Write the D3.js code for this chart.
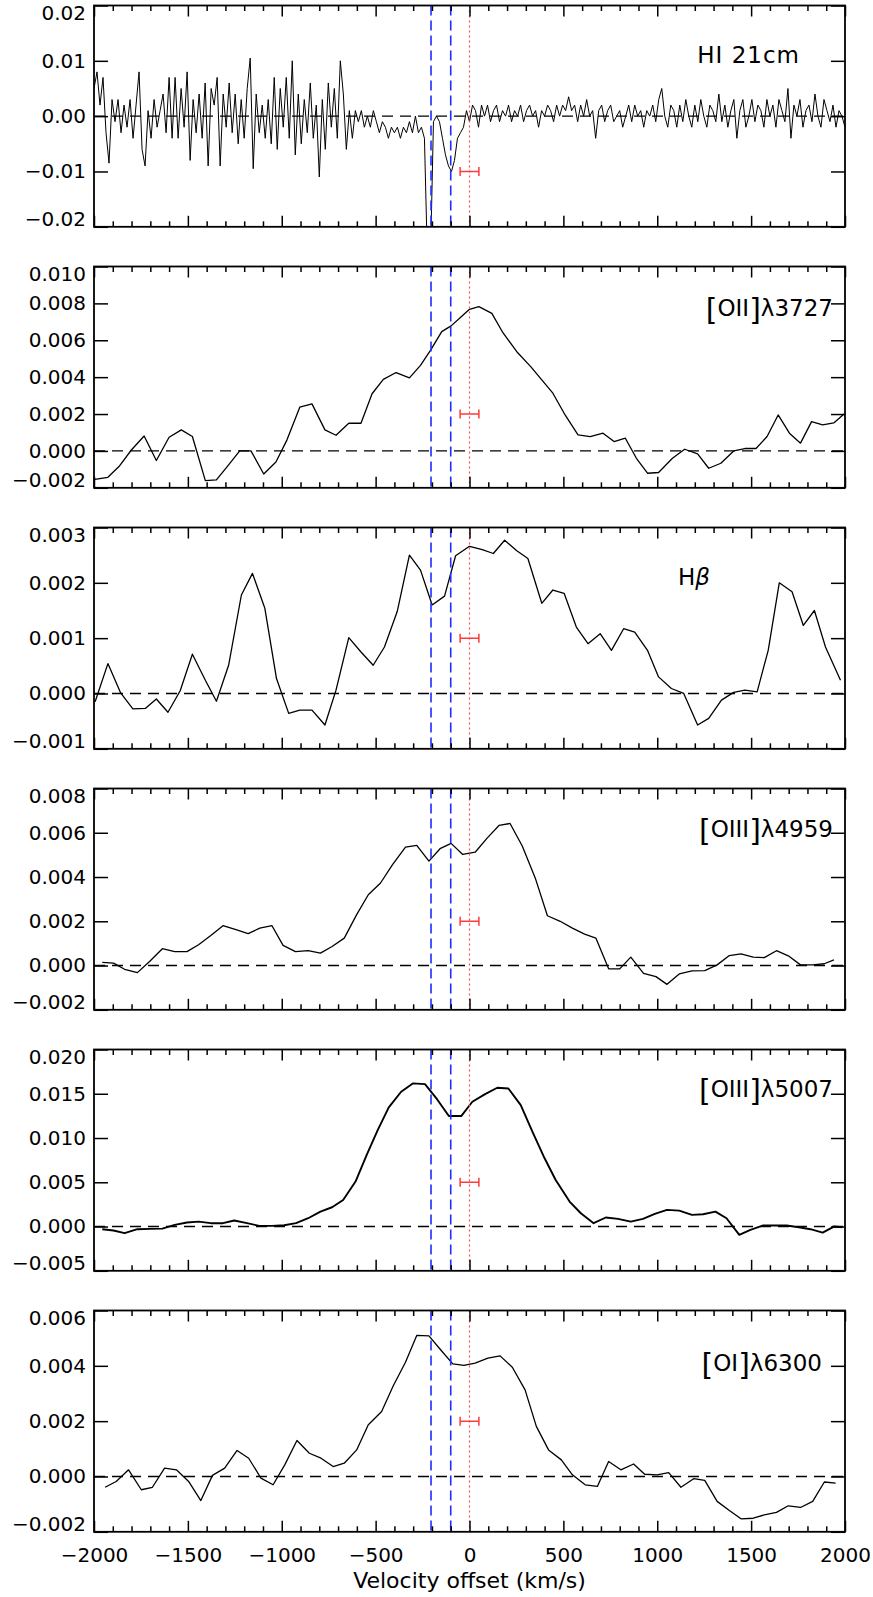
<!DOCTYPE html>
<html>
<head>
<meta charset="utf-8">
<script src="https://d3js.org/d3.v7.min.js"></script>
<style>
  body { margin: 0; background: #fff; }
  svg { display: block; }
  .tick-label { font: 20px "DejaVu Sans", sans-serif; fill: #000; }
  .panel-label { font: 23px "DejaVu Sans", sans-serif; fill: #000; }
  .axis-title { font: 22px "DejaVu Sans", sans-serif; fill: #000; }
</style>
</head>
<body>
<svg id="chart" width="873" height="1597"></svg>
<script>
// x axis
var xTicksMajor = [-2000, -1500, -1000, -500, 0, 500, 1000, 1500, 2000];
var xTitle = "Velocity offset (km/s)";

// panels, top to bottom
var panelNames = ["HI 21cm", "[OII]λ3727", "Hβ", "[OIII]λ4959", "[OIII]λ5007", "[OI]λ6300"];
var yMin = [-0.02, -0.002, -0.001, -0.002, -0.005, -0.002];
var yMax = [0.02, 0.010, 0.003, 0.008, 0.020, 0.006];
var yStep = [0.01, 0.002, 0.001, 0.002, 0.005, 0.002];
var yDigits = [2, 3, 3, 3, 3, 3];
var errY = [-0.01, 0.002, 0.001, 0.002, 0.005, 0.002];

// marker velocities (km/s)
var blueLines = [-205, -100];
var redLine = 0;
var errHalf = 50;

// HI 21cm, 16 km/s channels from -2000 (one row = 10 channels)
var hiStart = -2000, hiChan = 16;
var hiFlux = [
  0.005, 0.008, 0.002, 0.007, -0.003, -0.0085, 0.003, -0.001, 0.003, -0.003,   // -2000
  0.002, -0.002, 0.003, -0.004, 0.002, 0.008, -0.006, -0.009, 0.001, -0.004,   // -1840
  0.003, -0.002, 0.001, 0.004, -0.003, 0.007, -0.004, 0.007, -0.004, 0.005,    // -1680
  -0.002, 0.008, -0.008, 0.003, -0.003, 0.004, -0.004, 0.006, -0.009, 0.005,   // -1520
  0.002, 0.007, -0.009, 0.004, -0.002, 0.006, -0.003, 0.004, -0.005, 0.003,    // -1360
  -0.004, 0.005, 0.0105, -0.0095, 0.004, -0.003, 0.002, -0.004, 0.003, -0.005, // -1200
  0.007, -0.006, 0.005, -0.002, 0.007, -0.004, 0.010, -0.007, 0.004, -0.005,   // -1040
  0.003, -0.003, 0.006, -0.004, 0.002, -0.011, 0.003, -0.006, 0.006, -0.002,   // -880
  0.005, -0.004, 0.010, 0.004, -0.006, 0.001, -0.004, 0.001, -0.001, 0.001,    // -720
  -0.002, 0.000, -0.002, 0.001, -0.001, -0.003, -0.001, -0.002, -0.004, -0.002, // -560
  -0.003, -0.002, -0.004, -0.002, -0.003, -0.001, -0.003, 0.000, -0.003, -0.002, // -400
  -0.004, -0.026, -0.026, -0.001, 0.000, -0.001, -0.004, -0.007, -0.009, -0.010, // -240
  -0.008, -0.004, -0.003, -0.002, 0.001, -0.001, 0.002, 0.001, -0.002, 0.002,  // -80
  0.000, 0.002, -0.001, 0.001, 0.002, -0.001, 0.001, 0.000, 0.002, -0.001,     // 80
  0.001, 0.000, 0.002, -0.001, 0.001, 0.002, 0.000, 0.001, -0.002, 0.001,      // 240
  0.000, 0.002, 0.001, -0.001, 0.002, 0.000, 0.002, 0.001, 0.0035, 0.001,      // 400
  0.002, -0.001, 0.002, 0.000, 0.003, 0.000, 0.001, -0.004, 0.001, 0.002,      // 560
  -0.001, 0.001, 0.002, -0.001, 0.000, 0.001, -0.002, 0.000, 0.002, -0.001,    // 720
  0.002, 0.000, 0.001, -0.002, 0.001, 0.000, 0.002, -0.001, 0.003, 0.005,      // 880
  0.000, -0.002, 0.002, 0.001, -0.002, 0.002, -0.001, 0.003, 0.000, -0.002,    // 1040
  0.002, -0.001, 0.003, 0.000, -0.002, 0.002, 0.001, -0.001, 0.004, -0.001,    // 1200
  0.002, -0.002, 0.001, 0.003, -0.004, 0.001, 0.003, -0.002, 0.000, 0.003,     // 1360
  -0.001, 0.002, 0.001, -0.002, 0.003, 0.000, 0.002, -0.002, 0.003, 0.001,     // 1520
  -0.001, 0.005, -0.004, 0.002, 0.000, 0.003, -0.002, 0.001, 0.002, -0.001,    // 1680
  0.004, 0.000, -0.002, 0.003, 0.001, -0.001, 0.002, -0.002, 0.001, 0.000,     // 1840
  -0.002                                                                       // 2000
];

// optical lines, [velocity, flux]
var oii3727 = [[-1995,-0.00154],[-1926,-0.00143],[-1867,-0.00085],[-1801,0.00005],[-1733,0.00081],[-1668,-0.00052],
  [-1600,0.00074],[-1535,0.00114],[-1476,0.00078],[-1407,-0.00161],[-1348,-0.00157],[-1283,-0.00076],[-1224,0.0],
  [-1164,0.0],[-1096,-0.00125],[-1031,-0.0006],[-972,0.0006],[-904,0.00237],[-839,0.00255],[-770,0.00114],
  [-711,0.00085],[-643,0.0015],[-578,0.0015],[-519,0.0031],[-459,0.00388],[-391,0.00425],[-320,0.00396],
  [-261,0.00464],[-207,0.00547],[-148,0.00647],[-98,0.00678],[-44,0.00728],[0,0.00768],[50,0.00782],
  [119,0.00746],[178,0.00641],[252,0.00538],[326,0.00457],[385,0.00385],[444,0.00313],[504,0.00204],
  [578,0.00087],[643,0.00078],[711,0.00096],[770,0.00051],[830,0.00069],[889,-0.0004],[948,-0.00121],
  [1007,-0.00117],[1081,-0.0004],[1146,0.00009],[1215,-0.00016],[1274,-0.00094],[1339,-0.00067],[1407,0.0],
  [1467,0.00013],[1526,0.00013],[1585,0.00078],[1644,0.00195],[1704,0.00096],[1763,0.00042],[1822,0.00159],
  [1881,0.00141],[1940,0.00152],[1995,0.002]];

var hbeta = [[-1994,-0.00015],[-1926,0.00054],[-1858,0.00001],[-1793,-0.00028],[-1727,-0.00027],[-1668,-0.0001],
  [-1606,-0.00034],[-1541,0.00005],[-1476,0.00071],[-1407,0.00024],[-1348,-0.00014],[-1283,0.00051],[-1215,0.00178],
  [-1156,0.00217],[-1090,0.00154],[-1028,0.00027],[-963,-0.00036],[-904,-0.0003],[-839,-0.0003],[-770,-0.00057],
  [-711,0.00006],[-643,0.00101],[-578,0.00075],[-513,0.00051],[-453,0.00084],[-385,0.00148],[-320,0.0025],
  [-261,0.00223],[-199,0.0016],[-133,0.00176],[-74,0.00249],[0,0.00266],[68,0.0026],[127,0.00253],[187,0.00277],
  [252,0.00258],[311,0.00244],[385,0.00163],[444,0.00187],[504,0.00181],[569,0.0012],[631,0.0009],[696,0.00108],
  [756,0.00078],[821,0.00117],[880,0.00111],[948,0.00078],[1007,0.0003],[1075,0.00009],[1141,0.0],[1215,-0.00057],
  [1274,-0.00045],[1342,-0.00012],[1407,0.00002],[1467,0.00006],[1532,0.00003],[1591,0.00078],[1650,0.002],
  [1718,0.00184],[1778,0.00123],[1837,0.0015],[1896,0.00084],[1976,0.00024]];

var oiii4959 = [[-1956,0.00014],[-1896,0.00011],[-1837,-0.00017],[-1769,-0.00032],[-1704,0.00018],[-1636,0.00076],
  [-1570,0.00063],[-1505,0.00063],[-1443,0.00094],[-1378,0.00136],[-1313,0.0018],[-1244,0.00162],[-1179,0.00144],
  [-1117,0.00169],[-1052,0.0018],[-993,0.00091],[-927,0.00063],[-859,0.00067],[-794,0.00056],[-732,0.00086],
  [-667,0.00124],[-601,0.0023],[-539,0.0032],[-474,0.00373],[-409,0.00457],[-341,0.00535],[-281,0.00543],
  [-216,0.00472],[-157,0.00528],[-98,0.00552],[-36,0.00502],[30,0.00512],[95,0.00577],[157,0.00633],[216,0.00642],
  [281,0.0054],[350,0.00396],[415,0.00225],[483,0.002],[548,0.00169],[613,0.00142],[673,0.00124],[741,-0.00015],
  [800,-0.00015],[859,0.00038],[927,-0.00035],[993,-0.0005],[1052,-0.00085],[1117,-0.00038],[1185,-0.00024],
  [1253,-0.00023],[1319,0.00003],[1384,0.00045],[1446,0.00053],[1511,0.00038],[1570,0.00036],[1635,0.00067],
  [1698,0.00044],[1763,0.00003],[1828,0.00003],[1890,0.00008],[1941,0.00026]];

var oiii5007 = [[-1956,-0.0003],[-1896,-0.00045],[-1837,-0.00075],[-1769,-0.0003],[-1704,-0.00026],[-1636,-0.00023],
  [-1570,0.00019],[-1505,0.00045],[-1443,0.00056],[-1378,0.00038],[-1313,0.00038],[-1253,0.00068],[-1185,0.00038],
  [-1120,0.00008],[-1052,0.00008],[-987,0.00015],[-924,0.00038],[-859,0.00094],[-794,0.00169],[-732,0.00218],
  [-673,0.003],[-607,0.00508],[-548,0.00808],[-489,0.0109],[-430,0.01346],[-364,0.01523],[-302,0.01617],
  [-237,0.01609],[-172,0.01436],[-110,0.01248],[-44,0.01248],[15,0.0141],[83,0.01496],[148,0.01568],[207,0.0156],
  [273,0.01372],[335,0.01071],[400,0.00771],[459,0.00526],[533,0.00282],[593,0.0015],[661,0.00038],[726,0.00102],
  [791,0.00086],[859,0.00056],[924,0.00086],[987,0.00143],[1052,0.00188],[1117,0.0018],[1185,0.00132],
  [1244,0.00139],[1310,0.00169],[1369,0.00094],[1437,-0.00094],[1496,-0.00038],[1561,0.00011],[1630,0.00011],
  [1689,0.00011],[1754,-0.00008],[1816,-0.0003],[1881,-0.00068],[1941,0.0],[1985,-0.00008]];

var oi6300 = [[-1941,-0.00039],[-1882,-0.00018],[-1816,0.00024],[-1748,-0.00048],[-1689,-0.00039],[-1624,0.0003],
  [-1561,0.00024],[-1496,-0.00018],[-1431,-0.00087],[-1369,0.00004],[-1304,0.0003],[-1238,0.00094],[-1176,0.00066],
  [-1111,-0.00006],[-1046,-0.0003],[-984,0.00042],[-919,0.0013],[-853,0.00084],[-791,0.00066],[-726,0.00036],
  [-667,0.00048],[-601,0.00096],[-539,0.00187],[-468,0.00235],[-406,0.00328],[-341,0.00413],[-281,0.0051],
  [-216,0.00508],[-154,0.00458],[-89,0.00407],[-30,0.00402],[30,0.0041],[98,0.00428],[163,0.00436],[228,0.00395],
  [296,0.00313],[356,0.00181],[421,0.00096],[489,0.0006],[548,0.00006],[616,-0.0003],[681,-0.00036],[741,0.00054],
  [806,0.00024],[874,0.00045],[933,0.00008],[999,0.00006],[1061,0.00014],[1126,-0.00039],[1194,-0.00008],
  [1253,-0.00014],[1319,-0.0009],[1384,-0.00123],[1446,-0.00153],[1511,-0.00151],[1570,-0.00139],[1635,-0.0013],
  [1698,-0.00106],[1763,-0.00112],[1828,-0.0009],[1890,-0.0002],[1950,-0.00024]];

// ---- layout ----
var svg = d3.select("#chart");
var left = 94, right = 845, top0 = 5.5, panelH = 221.3, panelStep = 261;
var x = d3.scaleLinear().domain([-2000, 2000]).range([left, right]);

var hiData = hiFlux.map(function (f, i) { return [hiStart + i * hiChan, f]; });
var spectra = [hiData, oii3727, hbeta, oiii4959, oiii5007, oi6300];
var lineWidths = [1, 1.3, 1.3, 1.3, 1.9, 1.3];

// label placement: right end x, baseline offset from panel top
var labelX = [800, 833, 710, 833, 833, 822];
var labelBase = [57, 49, 57, 48, 47, 60];
var labelSpacing = [1, 0, 0, 0, 0, 0];

var xMinor = d3.range(-2000, 2001, 100).filter(function (v) { return v % 500 !== 0; });

function styleAxis(sel) {
  sel.select(".domain").remove();
  sel.selectAll("line").attr("stroke", "#000").attr("stroke-width", 1.5);
  sel.selectAll("text").attr("class", "tick-label");
}

panelNames.forEach(function (name, i) {
  var top = top0 + i * panelStep, bottom = top + panelH;
  var y = d3.scaleLinear().domain([yMin[i], yMax[i]]).range([bottom, top]);
  var g = svg.append("g");

  svg.append("clipPath").attr("id", "clip" + i).append("rect")
    .attr("x", left).attr("y", top).attr("width", right - left).attr("height", panelH);

  // zero line
  g.append("line")
    .attr("x1", left).attr("x2", right).attr("y1", y(0)).attr("y2", y(0))
    .attr("stroke", "#000").attr("stroke-width", 1.4).attr("stroke-dasharray", "11,7");

  // spectrum
  var line = d3.line().x(function (d) { return x(d[0]); }).y(function (d) { return y(d[1]); });
  g.append("path").datum(spectra[i])
    .attr("clip-path", "url(#clip" + i + ")")
    .attr("fill", "none").attr("stroke", "#000")
    .attr("stroke-width", lineWidths[i]).attr("stroke-linejoin", "round")
    .attr("d", line);

  // blue dashed markers
  blueLines.forEach(function (v) {
    g.append("line")
      .attr("x1", x(v)).attr("x2", x(v)).attr("y1", top).attr("y2", bottom)
      .attr("stroke", "#1f2dff").attr("stroke-width", 1.6).attr("stroke-dasharray", "10,5");
  });

  // red dotted systemic line
  g.append("line")
    .attr("x1", x(redLine)).attr("x2", x(redLine)).attr("y1", top).attr("y2", bottom)
    .attr("stroke", "#ff4a4a").attr("stroke-width", 1.2).attr("stroke-dasharray", "2,3");

  // red error bar
  var ey = y(errY[i]), ex0 = x(redLine - errHalf), ex1 = x(redLine + errHalf);
  g.append("path")
    .attr("d", "M" + ex0 + "," + ey + "H" + ex1 +
               "M" + ex0 + "," + (ey - 4.5) + "V" + (ey + 4.5) +
               "M" + ex1 + "," + (ey - 4.5) + "V" + (ey + 4.5))
    .attr("fill", "none").attr("stroke", "#ff3b3b").attr("stroke-width", 1.5);

  // y axes
  var n = Math.round((yMax[i] - yMin[i]) / yStep[i]);
  var yt = d3.range(n + 1).map(function (k) { return +(yMin[i] + k * yStep[i]).toFixed(6); });
  var fmt = d3.format("." + yDigits[i] + "f");

  var gl = g.append("g").attr("transform", "translate(" + left + ",0)")
    .call(d3.axisLeft(y).tickValues(yt).tickSize(-14).tickPadding(8).tickFormat(fmt));
  styleAxis(gl);
  gl.selectAll("text").attr("y", function (d, k) {
    return k === 0 ? -8 : (k === yt.length - 1 ? 8 : 0);
  });

  var gr = g.append("g").attr("transform", "translate(" + right + ",0)")
    .call(d3.axisRight(y).tickValues(yt).tickSize(-14).tickFormat(""));
  styleAxis(gr);

  // x axes (top and bottom, major + minor)
  var last = i === panelNames.length - 1;
  var gb = g.append("g").attr("transform", "translate(0," + bottom + ")")
    .call(d3.axisBottom(x).tickValues(xTicksMajor).tickSize(-11).tickPadding(16)
      .tickFormat(last ? d3.format("d") : ""));
  styleAxis(gb);
  var gbm = g.append("g").attr("transform", "translate(0," + bottom + ")")
    .call(d3.axisBottom(x).tickValues(xMinor).tickSize(-5.5).tickFormat(""));
  styleAxis(gbm);
  var gt = g.append("g").attr("transform", "translate(0," + top + ")")
    .call(d3.axisTop(x).tickValues(xTicksMajor).tickSize(-11).tickFormat(""));
  styleAxis(gt);
  var gtm = g.append("g").attr("transform", "translate(0," + top + ")")
    .call(d3.axisTop(x).tickValues(xMinor).tickSize(-5.5).tickFormat(""));
  styleAxis(gtm);

  // frame
  g.append("rect")
    .attr("x", left).attr("y", top).attr("width", right - left).attr("height", panelH)
    .attr("fill", "none").attr("stroke", "#000").attr("stroke-width", 1.8);

  // panel label, brackets drawn taller and dropped a little
  var t = g.append("text").attr("class", "panel-label")
    .attr("x", labelX[i]).attr("y", top + labelBase[i])
    .attr("text-anchor", "end")
    .attr("letter-spacing", labelSpacing[i]);
  var shift = 0;
  name.split(/([\[\]β])/).filter(function (s) { return s.length; }).forEach(function (part) {
    var ts = t.append("tspan").text(part);
    if (part === "[" || part === "]") {
      ts.attr("font-size", 30).attr("dy", 4 - shift);
      shift = 4;
    } else {
      if (shift) ts.attr("dy", -shift);
      shift = 0;
      if (part === "β") ts.attr("font-style", "italic");
    }
  });
});

// x axis title
svg.append("text").attr("class", "axis-title")
  .attr("x", x(0)).attr("y", 1588).attr("text-anchor", "middle")
  .text(xTitle);
</script>
</body>
</html>
